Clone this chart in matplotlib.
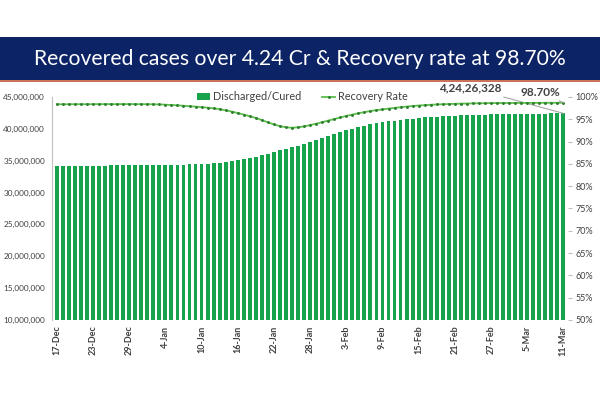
import numpy as np
import pandas as pd
import matplotlib
matplotlib.use("Agg")
import matplotlib.pyplot as plt
from matplotlib.patches import Rectangle, Patch
from matplotlib.lines import Line2D
from matplotlib.ticker import FuncFormatter

plt.rcParams['font.family'] = ['Lato', 'DejaVu Sans']

dates = pd.date_range("2021-12-17", "2022-03-11", freq="D")

# cumulative discharged / cured, in millions
recovered_m = [
    34.18, 34.19, 34.19, 34.20, 34.21, 34.22, 34.22, 34.23, 34.24, 34.25, 34.25, 34.26, 34.27, 34.28, 34.29,
    34.30, 34.31, 34.32, 34.33, 34.34, 34.36, 34.38, 34.41, 34.44, 34.48, 34.53, 34.60, 34.68, 34.78, 34.90,
    35.03, 35.19, 35.35, 35.58, 35.85, 36.10, 36.35, 36.60, 36.85, 37.10, 37.35, 37.60, 37.90, 38.20, 38.50, 38.80,
    39.20, 39.50, 39.80, 40.05, 40.30, 40.50, 40.70, 40.88, 41.03, 41.17, 41.30, 41.42, 41.52, 41.61,
    41.70, 41.78, 41.85, 41.91, 41.97, 42.02, 42.06, 42.10, 42.14, 42.17, 42.20, 42.23, 42.25, 42.27,
    42.29, 42.31, 42.33, 42.35, 42.36, 42.38, 42.39, 42.40, 42.41, 42.42, 42.426328,
]

recovery_rate = [
    98.36, 98.37, 98.37, 98.38, 98.38, 98.38, 98.39, 98.39, 98.40, 98.40, 98.40, 98.40, 98.40, 98.40, 98.39,
    98.38, 98.36, 98.32, 98.27, 98.20, 98.12, 98.03, 97.93, 97.83, 97.72, 97.60, 97.45, 97.25, 97.00, 96.72,
    96.40, 96.05, 95.68, 95.30, 94.80, 94.30, 93.85, 93.45, 93.20, 93.10, 93.20, 93.40, 93.70, 94.00, 94.35, 94.70,
    95.05, 95.40, 95.75, 96.05, 96.35, 96.60, 96.85, 97.05, 97.20, 97.40, 97.55, 97.70, 97.85, 97.98,
    98.08, 98.17, 98.25, 98.31, 98.37, 98.42, 98.46, 98.50, 98.53, 98.56, 98.58, 98.60, 98.62, 98.63,
    98.64, 98.65, 98.66, 98.66, 98.67, 98.68, 98.68, 98.69, 98.69, 98.70, 98.70,
]

title = "Recovered cases over 4.24 Cr & Recovery rate at 98.70%"
last_count_label = "4,24,26,328"
last_rate_label = "98.70%"

bar_green = '#17a24c'
line_green = '#5cbf4a'
text_grey = '#404040'

fig = plt.figure(figsize=(6, 3.99), dpi=100)
fig.patch.set_facecolor('white')

# title banner
fig.patches.append(Rectangle((0, 0.7995), 1, 0.1075, transform=fig.transFigure,
                             facecolor='#0c2466', edgecolor='none', zorder=0))
fig.patches.append(Rectangle((0, 0.795), 1, 0.0045, transform=fig.transFigure,
                             facecolor='#c9735a', edgecolor='none', zorder=0))
fig.text(0.5, 0.853, title, color='white', fontsize=15.2, ha='center', va='center')

ax = fig.add_axes([0.0867, 0.198, 0.8603, 0.559])
x = np.arange(len(dates))
values = np.array(recovered_m) * 1e6
ax.bar(x, values - 10e6, bottom=10e6, width=0.64, color=bar_green, zorder=2)
ax.set_ylim(10e6, 45e6)
ax.set_xlim(-0.8, len(dates) - 0.2)
ax.set_yticks(np.arange(10e6, 45.1e6, 5e6))
ax.yaxis.set_major_formatter(FuncFormatter(lambda v, p: f"{int(v):,}"))
ax.tick_params(axis='y', labelsize=5.9, labelcolor=text_grey, length=0, pad=5)

tick_idx = x[::6]
ax.set_xticks(tick_idx)
ax.set_xticklabels([f"{d.day}-{d.strftime('%b')}" for d in dates[tick_idx]],
                   rotation=90, fontsize=6.5, fontweight='bold', color=text_grey)
ax.tick_params(axis='x', length=0, pad=4)

for s in ['top', 'right', 'bottom']:
    ax.spines[s].set_visible(False)
ax.spines['left'].set_color('#bfbfbf')
ax.spines['left'].set_linewidth(0.8)

ax2 = ax.twinx()
ax2.plot(x, recovery_rate, color=line_green, lw=1.3, zorder=3)
ax2.plot(x, recovery_rate, ls='none', marker='.', ms=2.2, color='#2e7d32', zorder=4)
ax2.set_ylim(50, 100)
ax2.set_yticks(np.arange(50, 101, 5))
ax2.yaxis.set_major_formatter(FuncFormatter(lambda v, p: f"{int(v)}%"))
ax2.tick_params(axis='y', labelsize=6.5, labelcolor=text_grey, length=3, color='#bfbfbf', pad=2)
for s in ['top', 'left', 'bottom', 'right']:
    ax2.spines[s].set_visible(False)

# annotations for last day
ax.annotate(last_count_label, xy=(x[-1], values[-1]), xytext=(502, 311),
            textcoords='figure pixels', ha='right', va='center',
            fontsize=8.5, fontweight='bold', color=text_grey,
            arrowprops=dict(arrowstyle='-', color='#a6a6a6', lw=0.8,
                            shrinkA=2, shrinkB=0), zorder=5)
ax2.annotate(last_rate_label, xy=(x[-1], recovery_rate[-1]), xytext=(560, 307),
             textcoords='figure pixels', ha='right', va='center',
             fontsize=8.5, fontweight='bold', color=text_grey,
             arrowprops=dict(arrowstyle='-', color='#a6a6a6', lw=0.8,
                             shrinkA=1, shrinkB=0), zorder=5)

handles = [Patch(facecolor=bar_green, edgecolor='none', label='Discharged/Cured'),
           Line2D([0], [0], color=line_green, lw=1.3, marker='.', ms=2.2,
                  markerfacecolor='#2e7d32', markeredgecolor='#2e7d32', label='Recovery Rate')]
leg = ax2.legend(handles=handles, loc='center', bbox_to_anchor=(0.485, 1.0), ncol=2,
                 frameon=False, fontsize=7.8, handlelength=1.2, handletextpad=0.2,
                 columnspacing=2.0, labelcolor=text_grey)

fig.savefig('out.png', dpi=100, facecolor='white')
